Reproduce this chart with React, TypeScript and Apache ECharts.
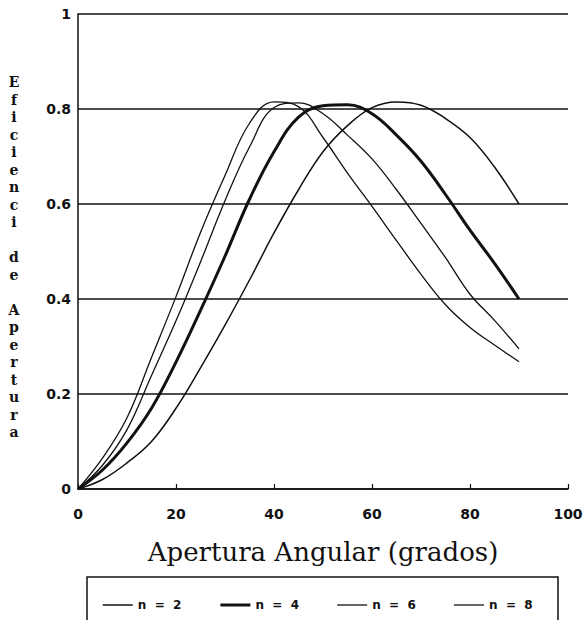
import React, { useEffect, useRef } from "react";
import * as echarts from "echarts";

const seriesNames = ["n = 2", "n = 4", "n = 6", "n = 8"];

const angles = [0, 5, 10, 15, 20, 25, 30, 35, 40, 45, 50, 55, 60, 65, 70, 75, 80, 85, 90];
const valuesN2 = [0, 0.02, 0.055, 0.1, 0.17, 0.255, 0.345, 0.44, 0.539, 0.63, 0.71, 0.765, 0.803, 0.815, 0.808, 0.78, 0.74, 0.678, 0.6];
const valuesN4 = [0, 0.04, 0.097, 0.17, 0.267, 0.376, 0.49, 0.61, 0.71, 0.783, 0.807, 0.809, 0.79, 0.745, 0.69, 0.62, 0.545, 0.475, 0.4];
const valuesN6 = [0, 0.05, 0.125, 0.239, 0.354, 0.478, 0.607, 0.72, 0.803, 0.813, 0.79, 0.745, 0.695, 0.63, 0.559, 0.487, 0.41, 0.355, 0.295];
const valuesN8 = [0, 0.065, 0.15, 0.277, 0.405, 0.54, 0.66, 0.77, 0.815, 0.805, 0.74, 0.665, 0.595, 0.523, 0.452, 0.388, 0.34, 0.303, 0.268];

const yTitle = "Eficienci de Apertura";
const xTitle = "Apertura Angular (grados)";

const pairs = (xs: number[], ys: number[]) => xs.map((x, i) => [x, ys[i]]);

export default function App() {
  const ref = useRef<HTMLDivElement>(null);
  useEffect(() => {
    if (!ref.current) return;
    const chart = echarts.init(ref.current, null, { renderer: "svg" });
    const dataSets = [valuesN2, valuesN4, valuesN6, valuesN8].map((v) => pairs(angles, v));
    const widths = [1.5, 3, 1.3, 1.3];
    chart.setOption({
      animation: false,
      backgroundColor: "#fff",
      grid: { left: 78, right: 18, top: 14, bottom: 131, containLabel: false },
      xAxis: {
        type: "value",
        min: 0,
        max: 100,
        interval: 20,
        name: xTitle,
        nameLocation: "middle",
        nameGap: 50,
        nameTextStyle: { fontFamily: "DejaVu Serif", fontSize: 26, color: "#111" },
        axisLine: { show: true, lineStyle: { color: "#111", width: 1.5 } },
        axisTick: { show: true, inside: true, length: 5, lineStyle: { color: "#111", width: 1.2 } },
        axisLabel: { margin: 18, fontFamily: "DejaVu Sans", fontWeight: "bold", fontSize: 14, color: "#111" },
        splitLine: { show: false },
      },
      yAxis: {
        type: "value",
        min: 0,
        max: 1,
        interval: 0.2,
        axisLine: { show: true, lineStyle: { color: "#111", width: 1.5 } },
        axisTick: { show: false },
        axisLabel: { margin: 7, fontFamily: "DejaVu Sans", fontWeight: "bold", fontSize: 14, color: "#111" },
        splitLine: { show: true, lineStyle: { color: "#111", width: 1.5 } },
      },
      legend: {
        left: 97,
        top: 594,
        itemWidth: 30,
        itemHeight: 14,
        itemGap: 37.5,
        itemStyle: { opacity: 0 },
        formatter: (name: string) => name.replace(/ /g, "  "),
        textStyle: { fontFamily: "DejaVu Sans", fontWeight: "bold", fontSize: 12, color: "#111" },
        data: seriesNames.map((name, i) => ({ name, lineStyle: { width: widths[i] } })),
      },
      graphic: [
        {
          type: "rect",
          shape: { x: 87, y: 577, width: 471, height: 80 },
          style: { fill: "none", stroke: "#111", lineWidth: 1.5 },
          silent: true,
        },
        {
          type: "text",
          x: 14,
          y: 257,
          style: {
            text: yTitle.split("").join("\n"),
            fontFamily: "DejaVu Serif",
            fontWeight: "bold",
            fontSize: 14,
            lineHeight: 17.5,
            align: "center",
            verticalAlign: "middle",
            fill: "#111",
          },
        },
      ],
      series: seriesNames.map((name, i) => ({
        name,
        type: "line",
        data: dataSets[i],
        smooth: 0.4,
        showSymbol: false,
        symbol: "none",
        lineStyle: { color: "#111", width: widths[i] },
        itemStyle: { color: "#111" },
      })),
    });
    return () => chart.dispose();
  }, []);
  return (
    <div
      ref={ref}
      style={{ position: "fixed", left: 0, top: 0, width: 586, height: 620, background: "#fff" }}
    />
  );
}
